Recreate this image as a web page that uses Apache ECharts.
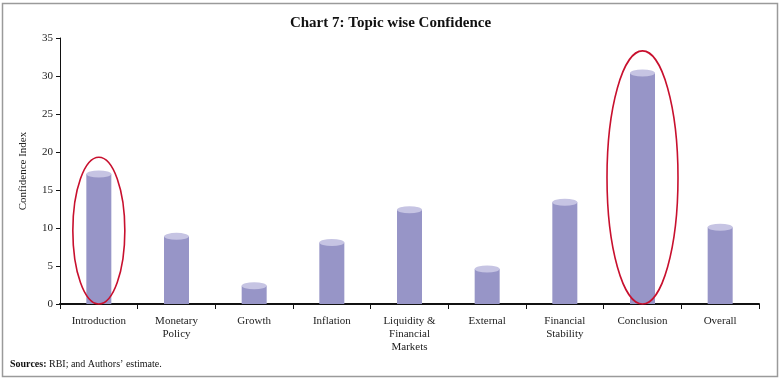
<!DOCTYPE html>
<html>
<head>
<meta charset="utf-8">
<style>
html,body{margin:0;padding:0;background:#fff;}
#c{width:781px;height:381px;}
</style>
<script src="https://cdn.jsdelivr.net/npm/echarts@6/dist/echarts.min.js"></script>
</head>
<body>
<div id="c"></div>
<script>
var categories = ['Introduction', 'Monetary\nPolicy', 'Growth', 'Inflation', 'Liquidity &\nFinancial\nMarkets', 'External', 'Financial\nStability', 'Conclusion', 'Overall'];
var values = [17.1, 8.9, 2.4, 8.1, 12.4, 4.6, 13.4, 30.4, 10.1];
var yTicks = [0, 5, 10, 15, 20, 25, 30, 35];
// highlighted topics: [category index, top of red ring in index units]
var highlights = [[0, 19.3], [7, 33.3]];

var FONT = '"Liberation Serif", "DejaVu Serif", serif';
var ringHalfWidth = {0: 26, 7: 35.5};
var ELLIPSE = 'path://M0,10 A20,10 0 1,0 40,10 A20,10 0 1,0 0,10 Z';

var chart = echarts.init(document.getElementById('c'), null, {renderer: 'canvas'});
chart.setOption({
  animation: false,
  backgroundColor: '#fff',
  title: {
    text: 'Chart 7: Topic wise Confidence',
    left: 'center', top: 11,
    textStyle: {fontFamily: FONT, fontSize: 15, fontWeight: 'bold', color: '#111'}
  },
  graphic: [
    {type: 'rect', shape: {x: 2.5, y: 3.5, width: 775, height: 373}, style: {fill: 'none', stroke: '#9a9a9a', lineWidth: 1.5}, z: 100},
    {type: 'text', left: 10, top: 359, style: {
      text: '{b|Sources:} RBI; and Authors\u2019 estimate.',
      rich: {b: {fontWeight: 'bold', fontFamily: FONT, fontSize: 10, fill: '#111'}},
      font: '10px ' + FONT, fill: '#111'
    }}
  ],
  grid: {left: 60, right: 22, top: 38, bottom: 77, containLabel: false},
  xAxis: {
    type: 'category',
    data: categories,
    axisLine: {lineStyle: {color: '#111', width: 2}},
    axisTick: {show: true, alignWithLabel: false, length: 5, lineStyle: {color: '#111', width: 1}},
    axisLabel: {interval: 0, fontFamily: FONT, fontSize: 11, color: '#222', margin: 11, lineHeight: 13}
  },
  yAxis: {
    type: 'value',
    min: 0, max: 35, interval: 5,
    name: 'Confidence Index',
    nameLocation: 'middle',
    nameGap: 31,
    nameTextStyle: {fontFamily: FONT, fontSize: 11, color: '#222'},
    axisLine: {show: true, lineStyle: {color: '#111', width: 1}},
    axisTick: {show: true, length: 4, lineStyle: {color: '#111'}},
    axisLabel: {fontFamily: FONT, fontSize: 11, color: '#222', margin: 7,
      formatter: function (v) { return yTicks.indexOf(v) >= 0 ? String(v) : ''; }},
    splitLine: {show: false}
  },
  series: [
    {
      type: 'bar',
      data: values,
      barWidth: 25,
      itemStyle: {color: '#9795c7'},
      z: 2
    },
    {
      type: 'pictorialBar',
      data: values,
      symbol: ELLIPSE,
      symbolSize: [25, 7],
      symbolPosition: 'end',
      symbolOffset: [0, '-50%'],
      itemStyle: {color: '#c6c4e3'},
      z: 3
    },
    {
      type: 'custom',
      data: highlights,
      z: 5,
      renderItem: function (params, api) {
        var idx = api.value(0);
        var top = api.coord([idx, api.value(1)]);
        var base = api.coord([idx, 0]);
        var rx = ringHalfWidth[idx] || 30;
        var ry = (base[1] - top[1]) / 2;
        var cx = top[0], cy = top[1] + ry;
        var d = 'M' + (cx - rx) + ' ' + cy +
          ' A' + rx + ' ' + ry + ' 0 1 0 ' + (cx + rx) + ' ' + cy +
          ' A' + rx + ' ' + ry + ' 0 1 0 ' + (cx - rx) + ' ' + cy + ' Z';
        return {
          type: 'path',
          shape: {pathData: d},
          style: {fill: 'none', stroke: '#c8102e', lineWidth: 1.6}
        };
      }
    }
  ]
});
</script>
</body>
</html>
